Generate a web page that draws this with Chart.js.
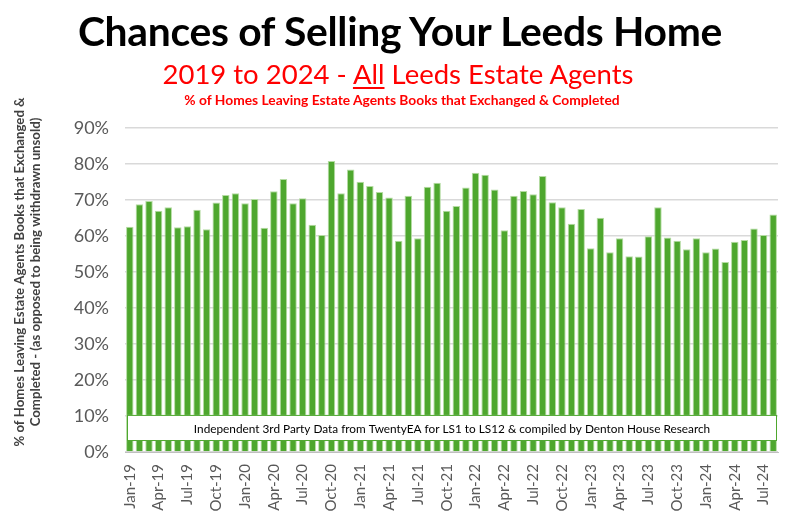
<!DOCTYPE html>
<html>
<head>
<meta charset="utf-8">
<script src="https://cdn.jsdelivr.net/npm/chart.js@4/dist/chart.umd.min.js"></script>
<style>
  html, body { margin: 0; padding: 0; background: #fff; }
  #wrap { position: relative; width: 800px; height: 517px; overflow: hidden; }
  #wrap canvas { position: absolute; left: 0; top: 0; }
  .t { position: absolute; left: 0; width: 800px; text-align: center; font-family: Lato, "Open Sans", sans-serif; white-space: nowrap; }
  #title { top: 6px; font-size: 40.8px; font-weight: 700; color: #000; letter-spacing: -0.3px; }
  #sub { top: 57px; font-size: 27.5px; color: #ff0000; left: -2px; }
  #sub u { text-decoration-thickness: 2px; text-underline-offset: 3px; }
  #sub2 { top: 91px; font-size: 13.8px; font-weight: 700; color: #ff0000; left: 2px; }
</style>
</head>
<body>
<div id="wrap">
  <canvas id="chart" width="800" height="517"></canvas>
  <div class="t" id="title">Chances of Selling Your Leeds Home</div>
  <div class="t" id="sub">2019 to 2024 - <u>All</u> Leeds Estate Agents</div>
  <div class="t" id="sub2">% of Homes Leaving Estate Agents Books that Exchanged &amp; Completed</div>
</div>
<script>
const months = ['Jan', 'Feb', 'Mar', 'Apr', 'May', 'Jun', 'Jul', 'Aug', 'Sep', 'Oct', 'Nov', 'Dec'];
const years = ['19', '20', '21', '22', '23', '24'];
const lastMonth = 'Aug-24';

// % of homes that exchanged & completed, Jan-19 .. Aug-24
const sold = [
  62.6, 68.8, 69.7, 67.0, 68.0, 62.4, 62.7, 67.3, 61.9, 69.3, 71.4, 71.9,
  69.1, 70.3, 62.3, 72.4, 75.8, 69.1, 70.5, 63.1, 60.3, 80.8, 71.9, 78.5,
  75.1, 73.9, 72.2, 70.7, 58.7, 71.2, 59.4, 73.7, 74.8, 67.0, 68.3, 73.5,
  77.6, 77.0, 72.9, 61.6, 71.2, 72.5, 71.6, 76.7, 69.4, 68.0, 63.4, 67.5,
  56.6, 65.1, 55.5, 59.4, 54.4, 54.3, 59.9, 68.0, 59.6, 58.7, 56.3, 59.4,
  55.5, 56.5, 52.8, 58.4, 58.9, 62.1, 60.3, 66.0
];

const yTicks = [0, 10, 20, 30, 40, 50, 60, 70, 80, 90];
const yTitle = ['% of Homes Leaving Estate Agents Books that Exchanged &',
                'Completed - (as opposed to being withdrawn unsold)'];
const note = 'Independent 3rd Party Data from TwentyEA for LS1 to LS12 & compiled by Denton House Research';

let labels = [];
for (const y of years) {
  for (const m of months) {
    labels.push(m + '-' + y);
    if (m + '-' + y == lastMonth) break;
  }
}

const FONT = 'Lato, "Open Sans", sans-serif';

// white box with the source note, laid over the bars near the bottom
const notePlugin = {
  id: 'note',
  afterDatasetsDraw(chart) {
    const { ctx, chartArea } = chart;
    const y = chart.scales.y;
    const top = y.getPixelForValue(10.3);
    const bottom = y.getPixelForValue(3.05);
    ctx.save();
    ctx.fillStyle = '#fff';
    ctx.strokeStyle = '#4ea72e';
    ctx.lineWidth = 1;
    ctx.fillRect(chartArea.left + 2, top, chartArea.right - chartArea.left - 3, bottom - top);
    ctx.strokeRect(chartArea.left + 2.5, top + 0.5, chartArea.right - chartArea.left - 4, bottom - top - 1);
    ctx.fillStyle = '#000';
    ctx.font = '11.8px ' + FONT;
    ctx.textAlign = 'center';
    ctx.textBaseline = 'middle';
    ctx.fillText(note, 452, (top + bottom) / 2 + 1);
    ctx.restore();

    // y axis title, two rotated lines, sitting a little above the plot's middle
    ctx.save();
    ctx.translate(0, 272);
    ctx.rotate(-Math.PI / 2);
    ctx.fillStyle = '#404040';
    ctx.font = 'bold 13.2px ' + FONT;
    ctx.textAlign = 'center';
    ctx.textBaseline = 'middle';
    ctx.fillText(yTitle[0], 0, 20);
    ctx.fillText(yTitle[1], 0, 36);
    ctx.restore();
  }
};

new Chart(document.getElementById('chart'), {
  type: 'bar',
  data: {
    labels: labels,
    datasets: [{
      data: sold,
      backgroundColor: '#4ea72e',
      borderColor: '#b5dca3',
      borderWidth: 1,
      barPercentage: 0.78,
      categoryPercentage: 1.0
    }]
  },
  options: {
    responsive: false,
    animation: false,
    layout: { padding: { top: 128, right: 22, left: 0, bottom: 0 } },
    plugins: {
      legend: { display: false },
      tooltip: { enabled: false }
    },
    scales: {
      x: {
        grid: { display: false },
        border: { color: '#bfbfbf' },
        afterFit: (s) => { s.height = 65; },
        ticks: {
          autoSkip: false,
          maxRotation: 90,
          minRotation: 90,
          padding: 4,
          color: '#595959',
          font: { family: FONT, size: 15 },
          callback: (v, i) => i % 3 == 0 ? labels[i] : ''
        }
      },
      y: {
        min: 0,
        max: 90,
        afterFit: (s) => { s.width = 125; },
        afterBuildTicks: (s) => { s.ticks = yTicks.map(v => ({ value: v })); },
        grid: { color: '#d9d9d9', lineWidth: 1.5, drawTicks: false },
        border: { display: false },
        ticks: {
          padding: 16,
          color: '#595959',
          font: { family: FONT, size: 18 },
          callback: (v) => v + '%'
        }
      }
    }
  },
  plugins: [notePlugin]
});
</script>
</body>
</html>
